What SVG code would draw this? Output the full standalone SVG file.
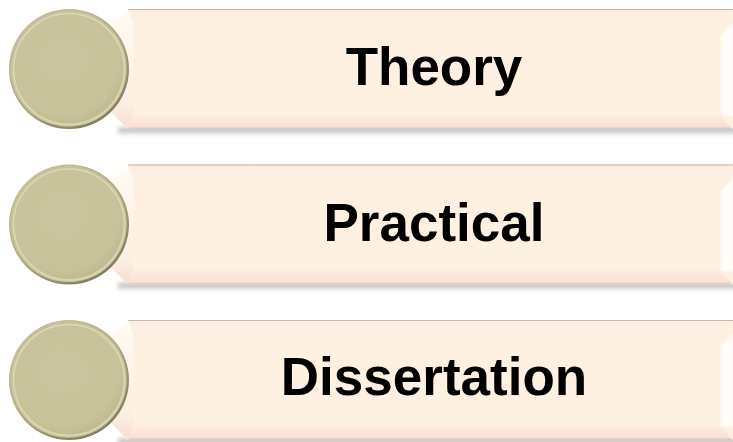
<svg xmlns="http://www.w3.org/2000/svg" width="733" height="442" viewBox="0 0 733 442">
<defs>
<style>
.lbl{font-family:"Liberation Sans",Arial,sans-serif;font-weight:bold;font-size:53px;fill:#000;text-anchor:middle}
</style>
<filter id="blur" x="-5%" y="-100%" width="110%" height="300%">
<feGaussianBlur stdDeviation="2"/>
</filter>
<linearGradient id="shadow" x1="0" y1="0" x2="0" y2="1">
<stop offset="0" stop-color="#808080" stop-opacity="0.8"/>
<stop offset="1" stop-color="#b0b0b0" stop-opacity="0.1"/>
</linearGradient>
<linearGradient id="topBand" x1="0" y1="0" x2="0" y2="1">
<stop offset="0" stop-color="#f8e4d8"/>
<stop offset="0.2" stop-color="#fdeee4"/>
<stop offset="1" stop-color="#fef0e3"/>
</linearGradient>
<linearGradient id="botBand" x1="0" y1="0" x2="0" y2="1">
<stop offset="0" stop-color="#fdece0"/>
<stop offset="0.8" stop-color="#fae2d4"/>
<stop offset="1" stop-color="#d9c6ba"/>
</linearGradient>
<linearGradient id="leftBev" x1="0" y1="0" x2="0" y2="1">
<stop offset="0" stop-color="#fffdf8"/>
<stop offset="0.15" stop-color="#fff8ef"/>
<stop offset="0.8" stop-color="#fdeee2"/>
<stop offset="1" stop-color="#f6ddcf"/>
</linearGradient>
<linearGradient id="rightBev" x1="0" y1="0" x2="1" y2="0">
<stop offset="0" stop-color="#fff6ec"/>
<stop offset="0.4" stop-color="#ffffff"/>
<stop offset="1" stop-color="#fffaf4"/>
</linearGradient>
<linearGradient id="rim" x1="0.2" y1="0.1" x2="0.8" y2="0.95">
<stop offset="0" stop-color="#c4be96"/>
<stop offset="0.5" stop-color="#aca67f"/>
<stop offset="1" stop-color="#7f7a5c"/>
</linearGradient>
<radialGradient id="disc" cx="0.45" cy="0.42" r="0.6">
<stop offset="0" stop-color="#cbc59f"/>
<stop offset="0.85" stop-color="#c8c29a"/>
<stop offset="1" stop-color="#bfb990"/>
</radialGradient>
<g id="bar">
<rect x="118" y="128" width="620" height="7" fill="url(#shadow)" filter="url(#blur)"/>
<path d="M128 9 H733 V129 H128 L112 113 V25 Z" fill="#fef1e2"/>
<path d="M128 9 H733 L720 23 H133 Z" fill="url(#topBand)"/>
<path d="M133 115 H720 L733 129 H128 Z" fill="url(#botBand)"/>
<path d="M112 25 L128 9 L133 23 V115 L128 129 L112 113 Z" fill="url(#leftBev)"/>
<path d="M720 36 L733 23 V116 L720 115 Z" fill="url(#rightBev)"/>
<line x1="128" y1="9.5" x2="733" y2="9.5" stroke="#c9b9ad" stroke-width="1"/>
</g>
<g id="knob">
<circle cx="69" cy="69" r="60" fill="url(#rim)"/>
<circle cx="68.5" cy="68.5" r="58.3" fill="#c6c098"/>
<circle cx="69" cy="69" r="55.5" fill="none" stroke="#d9d4b2" stroke-width="2"/>
<circle cx="69" cy="69" r="54" fill="url(#disc)"/>
</g>
</defs>
<g id="node-theory">
<use href="#bar"/>
<use href="#knob"/>
<text class="lbl" x="434" y="85">Theory</text>
</g>
<g id="node-practical">
<use href="#bar" y="155.5"/>
<use href="#knob" y="155.5"/>
<text class="lbl" x="434" y="241">Practical</text>
</g>
<g id="node-dissertation">
<use href="#bar" y="311"/>
<use href="#knob" y="311"/>
<text class="lbl" x="434" y="395">Dissertation</text>
</g>
</svg>
